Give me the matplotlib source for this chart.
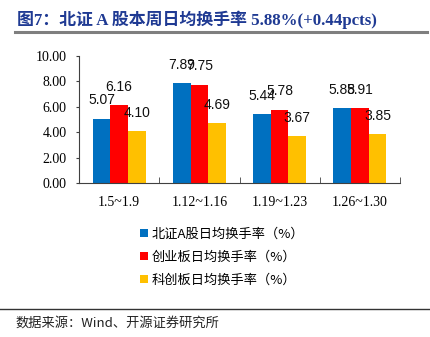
import numpy as np
import matplotlib.pyplot as plt
from matplotlib.patches import Patch
from matplotlib.lines import Line2D

# ----------- DATA -----------------------------------------------------------
weeks      = ["1.5~1.9", "1.12~1.16", "1.19~1.23", "1.26~1.30"]
bse_rate   = [5.07, 7.89, 5.44, 5.88]     # 北证A股
gem_rate   = [6.16, 7.75, 5.78, 5.91]     # 创业板
star_rate  = [4.10, 4.69, 3.67, 3.85]     # 科创板
series_names = ["北证A股日均换手率（%）", "创业板日均换手率（%）", "科创板日均换手率（%）"]
# ----------------------------------------------------------------------------

colors = ["#0070C0", "#FF0000", "#FFC000"]
cjk = ["Noto Sans CJK SC", "DejaVu Sans"]
serif = ["Liberation Serif", "Noto Sans CJK SC"]

fig = plt.figure(figsize=(4.31, 3.37), dpi=100)
W, H = 431, 337

# title and rule underneath
fig.text(17 / W, 1 - 20 / H, "图7：北证 A 股本周日均换手率 5.88%(+0.44pcts)",
         family=serif, fontsize=12.2, fontweight="bold", color="#1F3A93",
         va="center", ha="left")
fig.add_artist(Line2D([15 / W, 427 / W], [1 - 32 / H, 1 - 32 / H],
                      color="#7F7F7F", lw=2.2))

ax = fig.add_axes([79 / W, 154 / H, 321 / W, 127 / H])
x = np.arange(len(weeks))
width = 0.22
for i, (vals, c) in enumerate(zip([bse_rate, gem_rate, star_rate], colors)):
    bars = ax.bar(x + (i - 1) * width, vals, width, color=c, label=series_names[i])
    for b, v in zip(bars, vals):
        ax.annotate(f"{v:.2f}", (b.get_x() + b.get_width() / 2, v),
                    xytext=(0, 8), textcoords="offset points",
                    ha="center", va="bottom", fontsize=10,
                    family="Liberation Sans", color="#111111")

ax.set_xlim(-0.5, 3.5)
ax.set_ylim(0, 10)
ax.set_yticks(np.arange(0, 10.01, 2))
ax.set_yticklabels([f"{t:.2f}" for t in np.arange(0, 10.01, 2)],
                   family=serif, fontsize=10)
ax.set_xticks(x)
ax.set_xticklabels(weeks, family=serif, fontsize=10)
ax.set_xticks(np.arange(-0.5, 3.6, 1), minor=True)
ax.tick_params(axis="x", which="major", length=0, pad=9)
ax.tick_params(axis="x", which="minor", direction="in", length=4, color="#404040")
ax.tick_params(axis="y", length=2, color="#404040", pad=7)
for s in ["top", "right"]:
    ax.spines[s].set_visible(False)
for s in ["left", "bottom"]:
    ax.spines[s].set_color("#404040")

handles = [Patch(facecolor=c, edgecolor="none") for c in colors]
fig.legend(handles, series_names, loc="upper left",
           bbox_to_anchor=(128 / W, 1 - 216 / H), frameon=False,
           prop={"family": cjk, "size": 9.5}, handlelength=0.6,
           handleheight=0.6, handletextpad=0.3, labelspacing=0.75)

# footer
fig.add_artist(Line2D([0, 1], [1 - 309 / H, 1 - 309 / H], color="#333333", lw=1))
fig.text(15 / W, 1 - 323 / H, "数据来源：Wind、开源证券研究所",
         family=cjk, fontsize=9.5, va="center", ha="left", color="#222222")

fig.savefig("out.png", dpi=100)
